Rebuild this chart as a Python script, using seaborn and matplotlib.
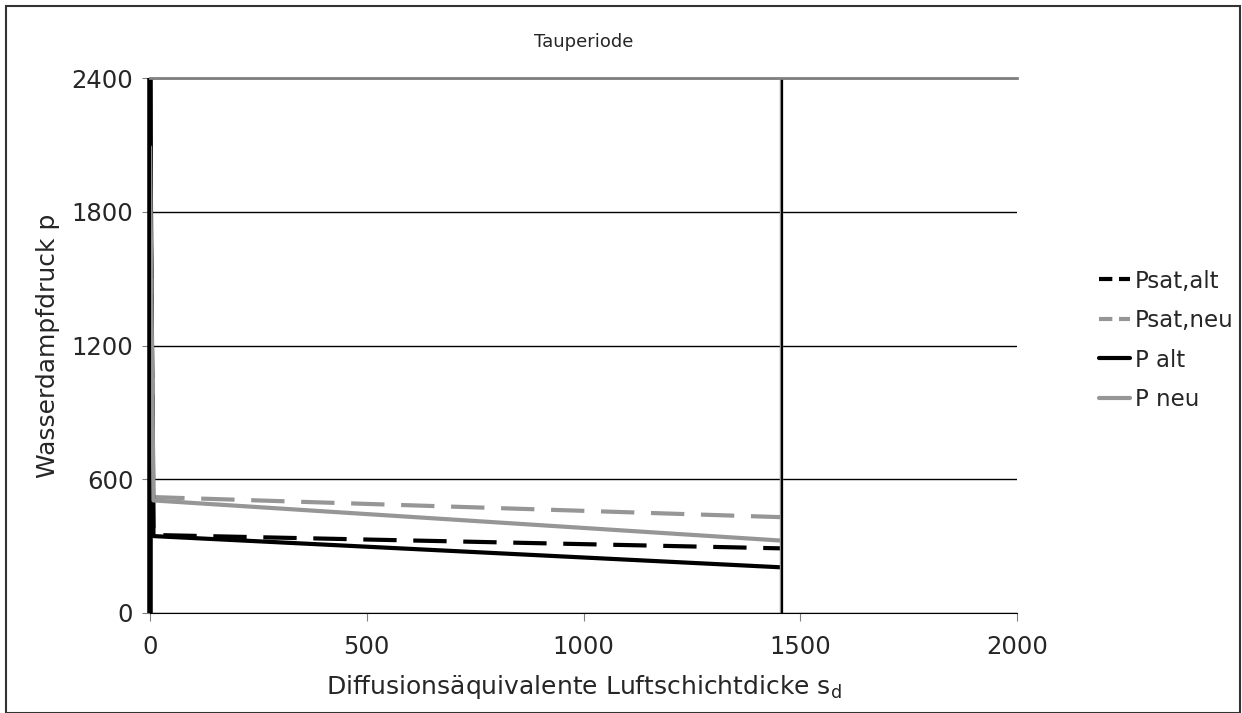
import pandas as pd
import matplotlib.pyplot as plt
import seaborn as sns
from matplotlib.lines import Line2D
from matplotlib.patches import Rectangle

# values
sd = [0, 8, 1455]
psat_alt = [2100, 350, 290]
psat_neu = [2100, 520, 430]
p_alt = [2400, 345, 205]
p_neu = [2090, 505, 325]
layer_x = [1455, 1455]
layer_y = [0, 2400]

DASH = (0, (8, 4))
LEG_DASH = (0, (3.2, 1.6))
series = [
    ("Psat,alt", psat_alt, "black", DASH, LEG_DASH),
    ("Psat,neu", psat_neu, "#969696", DASH, LEG_DASH),
    ("P alt", p_alt, "black", "-", "-"),
    ("P neu", p_neu, "#969696", "-", "-"),
]

sns.set_style("white")
plt.rcParams["font.family"] = ["DejaVu Sans"]

fig = plt.figure(figsize=(12.42, 7.13), dpi=100)
ax = fig.add_axes([150 / 1242, 1 - 613 / 713, 867 / 1242, 535 / 713])

# thick boundary at the inner surface
ax.axvline(0, color="black", lw=4, zorder=1, clip_on=False, solid_capstyle="butt")

handles = []
for name, vals, col, ls, lls in series:
    df = pd.DataFrame({"sd": sd, "p": vals})
    sns.lineplot(data=df, x="sd", y="p", color=col, linestyle=ls, lw=3,
                 ax=ax, sort=False, estimator=None)
    handles.append(Line2D([], [], color=col, linestyle=lls, lw=3, label=name))

# layer boundary at the end
bnd = pd.DataFrame({"sd": layer_x, "p": layer_y})
sns.lineplot(data=bnd, x="sd", y="p", color="#969696", lw=2.5, ax=ax,
             sort=False, estimator=None)
bnd2 = pd.DataFrame({"sd": [v + 3 for v in layer_x], "p": layer_y})
sns.lineplot(data=bnd2, x="sd", y="p", color="black", lw=1.5, ax=ax,
             sort=False, estimator=None)

ax.set_xlim(0, 2000)
ax.set_ylim(0, 2400)
ax.set_xticks([0, 500, 1000, 1500, 2000])
ax.set_yticks([0, 600, 1200, 1800, 2400])
ax.yaxis.grid(True, color="black", lw=1)
ax.xaxis.grid(False)
ax.tick_params(labelsize=17.5, length=6, color="#808080", direction="out",
               left=True, bottom=True)
ax.tick_params(axis="x", pad=10)
ax.tick_params(axis="y", pad=6)
ax.spines["right"].set_visible(False)
ax.spines["top"].set_color("#808080")
ax.spines["top"].set_linewidth(2)
ax.spines["bottom"].set_color("black")
ax.spines["left"].set_color("black")

ax.set_xlabel("Diffusionsäquivalente Luftschichtdicke s$_\\mathregular{d}$",
              fontsize=18, labelpad=10)
ax.set_ylabel("Wasserdampfdruck p", fontsize=18, labelpad=8)
ax.set_title("Tauperiode", fontsize=13, pad=22)

ax.legend(handles=handles, loc="upper left", bbox_to_anchor=(0.885, 0.622),
          bbox_transform=fig.transFigure, frameon=False, fontsize=16.5,
          handlelength=1.35, handletextpad=0.2, labelspacing=0.72,
          borderpad=0, borderaxespad=0)

fig.patches.append(Rectangle((0.005, 0.0), 0.993, 0.991, transform=fig.transFigure,
                             fill=False, edgecolor="#333333", lw=1.5))

fig.savefig("out.png", dpi=100, facecolor="white")
